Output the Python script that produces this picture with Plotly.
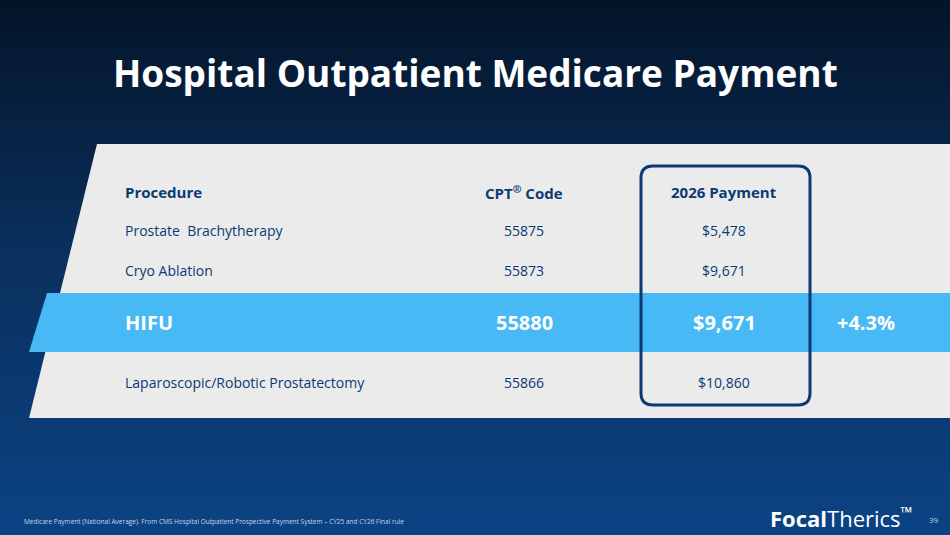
import numpy as np
import plotly.graph_objects as go

# Table content
procedures = ["Prostate  Brachytherapy", "Cryo Ablation", "HIFU", "Laparoscopic/Robotic Prostatectomy"]
cpt_codes = ["55875", "55873", "55880", "55866"]
payments = ["$5,478", "$9,671", "$9,671", "$10,860"]
row_y = [230, 270, 322, 382]
highlight = "HIFU"
change = "+4.3%"

W, H = 950, 535
FONT = "Open Sans"
NAVY = "#0b3a73"

fig = go.Figure()

# background gradient (dark navy top -> blue bottom)
ys = np.linspace(0, H, 60)
fig.add_trace(go.Heatmap(
    x=[0, W], y=ys, z=[[v, v] for v in ys],
    colorscale=[[0, "#041428"], [0.45, "#0a2f5c"], [1, "#0b4384"]],
    showscale=False, hoverinfo="skip"))

# grey table panel with slanted left edge
fig.add_shape(type="path", path="M 97 144 L 950 144 L 950 418 L 29 418 Z",
              fillcolor="#ebebeb", line=dict(width=0), layer="above")
# highlight band
fig.add_shape(type="path", path="M 47 293 L 950 293 L 950 352 L 29 352 Z",
              fillcolor="#47b9f5", line=dict(width=0), layer="above")
# payment column box, rounded corners
r = 12
x0, x1, y0, y1 = 641, 810, 166, 405
fig.add_shape(type="path",
              path=(f"M {x0+r} {y0} L {x1-r} {y0} Q {x1} {y0} {x1} {y0+r} "
                    f"L {x1} {y1-r} Q {x1} {y1} {x1-r} {y1} L {x0+r} {y1} "
                    f"Q {x0} {y1} {x0} {y1-r} L {x0} {y0+r} Q {x0} {y0} {x0+r} {y0} Z"),
              line=dict(color=NAVY, width=3), layer="above")

ann = []
def txt(x, y, s, size, color, anchor="left", bold=False):
    ann.append(dict(x=x, y=y, text=f"<b>{s}</b>" if bold else s, showarrow=False,
                    xanchor=anchor, yanchor="middle",
                    font=dict(family=FONT, size=size, color=color)))

txt(475, 72, "Hospital Outpatient Medicare Payment", 37, "white", "center", True)
txt(123, 192, "Procedure", 15, NAVY, bold=True)
txt(524, 192, "CPT<sup>®</sup> Code", 15, NAVY, "center", True)
txt(724, 192, "2026 Payment", 15, NAVY, "center", True)

for p, c, m, y in zip(procedures, cpt_codes, payments, row_y):
    if p == highlight:
        txt(123, y, p, 20, "white", bold=True)
        txt(524, y, c, 20, "white", "center", True)
        txt(724, y, m, 20, "white", "center", True)
        txt(866, y, change, 20, "white", "center", True)
    else:
        txt(123, y, p, 14, NAVY)
        txt(524, y, c, 14, NAVY, "center")
        txt(724, y, m, 14, NAVY, "center")

txt(22, 521, "Medicare Payment (National Average). From CMS Hospital Outpatient Prospective Payment System – CY25 and CY26 Final rule",
    6.5, "#c8d4e6")
txt(914, 517, "<b>Focal</b>Therics<sup>™</sup>", 22, "white", "right")
txt(934, 519, "39", 8, "#c8d4e6", "center")

fig.update_layout(
    width=W, height=H, margin=dict(l=0, r=0, t=0, b=0),
    annotations=ann, showlegend=False,
    paper_bgcolor="#061d3b", plot_bgcolor="#061d3b",
    xaxis=dict(range=[0, W], visible=False, fixedrange=True),
    yaxis=dict(range=[H, 0], visible=False, fixedrange=True),
)
fig.write_html("out.html", config={"displayModeBar": False})

# drop the default page margin so the slide fills the window
with open("out.html", encoding="utf-8") as f:
    page = f.read()
page = page.replace("<body>", '<body style="margin:0;overflow:hidden">', 1)
with open("out.html", "w", encoding="utf-8") as f:
    f.write(page)
